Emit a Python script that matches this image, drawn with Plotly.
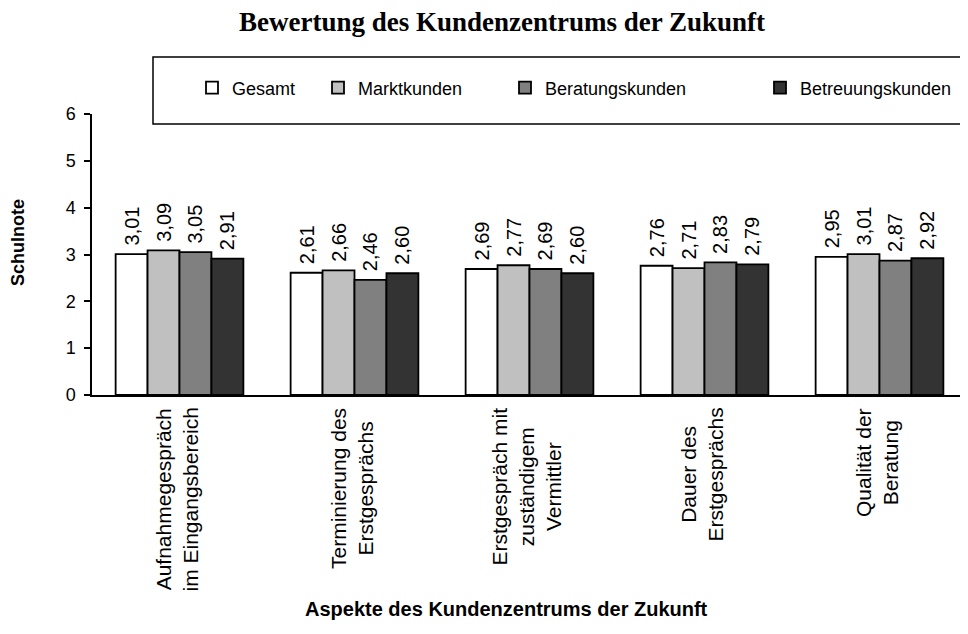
import plotly.graph_objects as go

categories = [
    "Aufnahmegespräch<br>im Eingangsbereich",
    "Terminierung des<br>Erstgesprächs",
    "Erstgespräch mit<br>zuständigem<br>Vermittler",
    "Dauer des<br>Erstgesprächs",
    "Qualität der<br>Beratung",
]
series_names = ["Gesamt", "Marktkunden", "Beratungskunden", "Betreuungskunden"]
gesamt = [3.01, 2.61, 2.69, 2.76, 2.95]
marktkunden = [3.09, 2.66, 2.77, 2.71, 3.01]
beratungskunden = [3.05, 2.46, 2.69, 2.83, 2.87]
betreuungskunden = [2.91, 2.60, 2.60, 2.79, 2.92]
series_values = [gesamt, marktkunden, beratungskunden, betreuungskunden]
colors = ["#ffffff", "#c0c0c0", "#808080", "#333333"]
y_ticks = [0, 1, 2, 3, 4, 5, 6]

OFF = 8  # page body margin
W, H = 968 - OFF, 634 - OFF
L, R, T = 92 - OFF, 1, 114 - OFF
B = H - (395 - OFF)
pw, ph = W - L - R, H - T - B

def px_x(p):
    return (p - OFF - L) / pw

def px_y(p):
    return (H - B - (p - OFF)) / ph

FONT = "Liberation Sans, Arial, sans-serif"
fig = go.Figure()
legend_names = ["legend", "legend2", "legend3", "legend4"]
legend_text_px = [232, 358, 545, 800]
for i, (name, vals, col) in enumerate(zip(series_names, series_values, colors)):
    fig.add_trace(go.Bar(
        x=categories, y=vals, name=name,
        marker=dict(color=col, line=dict(color="black", width=1.8)),
        texttemplate="\u00a0%{y:.2f}", textposition="outside", textangle=-90,
        constraintext="none",
        textfont=dict(family=FONT, size=20, color="black"),
        cliponaxis=False, showlegend=True,
        legend=legend_names[i],
    ))

layout_legends = {}
for i, ln in enumerate(legend_names):
    layout_legends[ln] = dict(
        x=px_x(legend_text_px[i] - 40), y=px_y(88), xanchor="left", yanchor="middle",
        xref="paper", yref="paper", visible=True,
        bgcolor="rgba(0,0,0,0)", borderwidth=0,
        font=dict(family=FONT, size=18, color="black"),
    )

annotations = []
for c in categories:
    annotations.append(dict(
        x=c, xref="x", y=px_y(406), yref="paper", text=c, showarrow=False,
        textangle=-90, xanchor="center", yanchor="top", align="center", xshift=-3,
        font=dict(family=FONT, size=21, color="black"),
    ))
annotations.append(dict(
    x=px_x(506), xref="paper", y=px_y(609), yref="paper", yanchor="middle",
    text="<b>Aspekte des Kundenzentrums der Zukunft</b>", showarrow=False,
    font=dict(family=FONT, size=20, color="black"),
))
annotations.append(dict(
    x=px_x(18), xref="paper", y=px_y(243), yref="paper", xanchor="center", yanchor="middle",
    text="<b>Schulnote</b>", showarrow=False, textangle=-90,
    font=dict(family=FONT, size=18, color="black"),
))

fig.update_layout(
    width=W, height=H,
    margin=dict(l=L, r=R, t=T, b=B, autoexpand=False),
    paper_bgcolor="white", plot_bgcolor="white",
    separators=",.",
    showlegend=True,
    barmode="group", bargap=0.27, bargroupgap=0,
    title=dict(text="<b>Bewertung des Kundenzentrums der Zukunft</b>",
               x=(502 - OFF) / W, xanchor="center", y=1 - (22 - OFF) / H, yanchor="middle",
               font=dict(family="Liberation Serif, Times New Roman, serif", size=27, color="black")),
    xaxis=dict(showticklabels=False, showline=True, linecolor="black", linewidth=2,
               ticks="", showgrid=False, zeroline=False),
    yaxis=dict(range=[0, 6], tickvals=y_ticks, showline=True, linecolor="black", linewidth=1.5,
               ticks="outside", ticklen=6, tickwidth=1.5, tickcolor="black",
               ticklabelstandoff=5,
               showgrid=False, zeroline=False,
               tickfont=dict(family=FONT, size=18, color="black")),
    shapes=[dict(type="rect", xref="paper", yref="paper",
                 x0=px_x(153), x1=1.05, y0=px_y(124), y1=px_y(57),
                 line=dict(color="black", width=1.5), fillcolor="white", layer="below")],
    annotations=annotations,
    **layout_legends,
)

fig.write_html("out.html")
